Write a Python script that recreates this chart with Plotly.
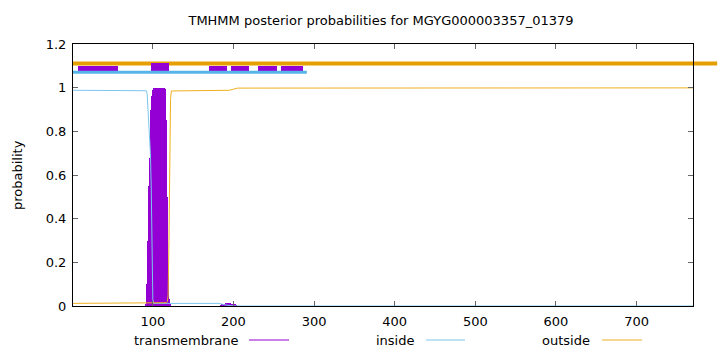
import plotly.graph_objects as go

# ---------------- data ----------------
seq_len = 770
title_text = "TMHMM posterior probabilities for MGYG000003357_01379"

x_ticks = [100, 200, 300, 400, 500, 600, 700]
y_ticks = [0, 0.2, 0.4, 0.6, 0.8, 1.0, 1.2]
y_tick_labels = ["0", "0.2", "0.4", "0.6", "0.8", "1", "1.2"]

# posterior probability of transmembrane (per residue, non-zero part only)
tm_res = [91, 92, 93, 94, 95, 96, 97, 98, 99, 100, 101, 102, 103, 104, 105, 106,
          107, 108, 109, 110, 111, 112, 113, 114, 115, 116, 117, 118, 119, 120, 121,
          184, 186, 188, 190, 192, 194, 196, 198, 200, 202, 204]
tm_prob = [0.005, 0.02, 0.1, 0.3, 0.55, 0.68, 0.8, 0.9, 0.96, 0.99, 0.998, 1.0, 1.0, 1.0, 1.0, 1.0,
           1.0, 1.0, 1.0, 1.0, 1.0, 1.0, 1.0, 1.0, 0.995, 0.97, 0.85, 0.5, 0.15, 0.03, 0.005,
           0.004, 0.008, 0.01, 0.012, 0.012, 0.012, 0.012, 0.01, 0.008, 0.005, 0.002]

# posterior probability of inside
inside_x = [1, 92, 93, 94, 95, 96, 97, 98, 99, 100, 101, 120, 182, 190, 200, 770]
inside_p = [0.988, 0.986, 0.97, 0.9, 0.82, 0.76, 0.7, 0.55, 0.2, 0.03, 0.012, 0.012, 0.012, 0.005, 0.0, 0.0]

# posterior probability of outside
outside_x = [1, 116, 117, 118, 119, 120, 121, 122, 123, 195, 200, 205, 770]
outside_p = [0.012, 0.012, 0.015, 0.02, 0.05, 0.3, 0.7, 0.95, 0.985, 0.988, 0.993, 0.998, 0.999]

# predicted topology (top bars)
outside_level = 1.111
inside_line_start, inside_line_end, inside_level = 1, 291, 1.071
tm_box_start = [7, 98, 170, 197, 231, 259]
tm_box_end = [57, 120, 192, 219, 254, 286]
tm_box_low = [1.078, 1.066, 1.071, 1.071, 1.071, 1.071]
tm_box_high = [1.101, 1.113, 1.099, 1.099, 1.099, 1.099]

legend_names = ["transmembrane", "inside", "outside"]

# ---------------- style ----------------
C_TM = "#9400d3"
C_IN = "#56b4e9"
C_IN_THIN = "#7cc6ee"
C_OUT = "#e69f00"
C_OUT_THIN = "#efb020"
FONT = "DejaVu Sans"

fig = go.Figure()

# topology: inside line
fig.add_trace(go.Scatter(x=[inside_line_start, inside_line_end], y=[inside_level, inside_level],
                         mode="lines", line=dict(color=C_IN, width=3), showlegend=False,
                         hoverinfo="skip"))
# topology: TM boxes
fig.add_trace(go.Bar(orientation="h",
                     base=tm_box_start,
                     x=[e - s for s, e in zip(tm_box_start, tm_box_end)],
                     y=[(lo + hi) / 2 for lo, hi in zip(tm_box_low, tm_box_high)],
                     width=[hi - lo for lo, hi in zip(tm_box_low, tm_box_high)],
                     marker=dict(color=C_TM, line=dict(width=0)), showlegend=False,
                     hoverinfo="skip"))
# TM posterior (impulses)
fig.add_trace(go.Bar(x=tm_res, y=tm_prob, width=0.7,
                     marker=dict(color=C_TM, line=dict(width=0)), showlegend=False))
# inside posterior
fig.add_trace(go.Scatter(x=inside_x, y=inside_p, mode="lines",
                         line=dict(color=C_IN_THIN, width=1), showlegend=False))
# outside posterior
fig.add_trace(go.Scatter(x=outside_x, y=outside_p, mode="lines",
                         line=dict(color=C_OUT_THIN, width=1), showlegend=False))

# topology: outside line (extends past the right frame, as in gnuplot)
fig.add_shape(type="line", xref="paper", yref="y", x0=0, x1=1.039,
              y0=outside_level, y1=outside_level,
              line=dict(color=C_OUT, width=4), layer="below")

# legend (gnuplot style: text then sample line)
leg_text_right = [241, 417, 592]
leg_line = [(249, 289), (426, 465), (602, 642)]
leg_colors = [C_TM, C_IN_THIN, C_OUT_THIN]
W, H = 720, 352
ml, mr, mt, mb = 73, 27, 44, 46
pw, ph = W - ml - mr, H - mt - mb
ly = 340
for name, tr, (l0, l1), col in zip(legend_names, leg_text_right, leg_line, leg_colors):
    fig.add_annotation(x=(tr - ml) / pw, y=(H - mb - ly) / ph, xref="paper", yref="paper",
                       text=name, showarrow=False, xanchor="right", yanchor="middle",
                       font=dict(family=FONT, size=13, color="black"))
    fig.add_shape(type="line", xref="paper", yref="paper",
                  x0=(l0 - ml) / pw, x1=(l1 - ml) / pw,
                  y0=(H - mb - ly) / ph, y1=(H - mb - ly) / ph,
                  line=dict(color=col, width=1))

# y axis title
fig.add_annotation(x=(17 - ml) / pw, y=0.5, xref="paper", yref="paper",
                   text="probability", textangle=-90, showarrow=False,
                   xanchor="center", yanchor="middle",
                   font=dict(family=FONT, size=13, color="black"))

fig.update_layout(
    width=W, height=H,
    margin=dict(l=ml, r=mr, t=mt, b=mb),
    paper_bgcolor="white", plot_bgcolor="white",
    showlegend=False, barmode="overlay", bargap=0,
    title=dict(text=title_text, x=(381) / W, xanchor="center", xref="container",
               y=1 - 20 / H, yanchor="middle", yref="container",
               font=dict(family=FONT, size=13, color="black")),
    font=dict(family=FONT, size=13, color="black"),
)
fig.update_xaxes(range=[1, seq_len], tickvals=x_ticks, ticks="inside", ticklen=5,
                 tickcolor="#666", showline=True, linecolor="black", linewidth=1,
                 mirror="allticks", showgrid=False, zeroline=False,
                 ticklabelstandoff=3, tickfont=dict(family=FONT, size=13))
fig.update_yaxes(range=[0, 1.2], tickvals=y_ticks, ticktext=y_tick_labels, ticks="inside",
                 ticklen=5, tickcolor="#666", showline=True, linecolor="black", linewidth=1,
                 mirror="allticks", showgrid=False, zeroline=False,
                 ticklabelstandoff=3, tickfont=dict(family=FONT, size=13))

fig.write_html("out.html")
